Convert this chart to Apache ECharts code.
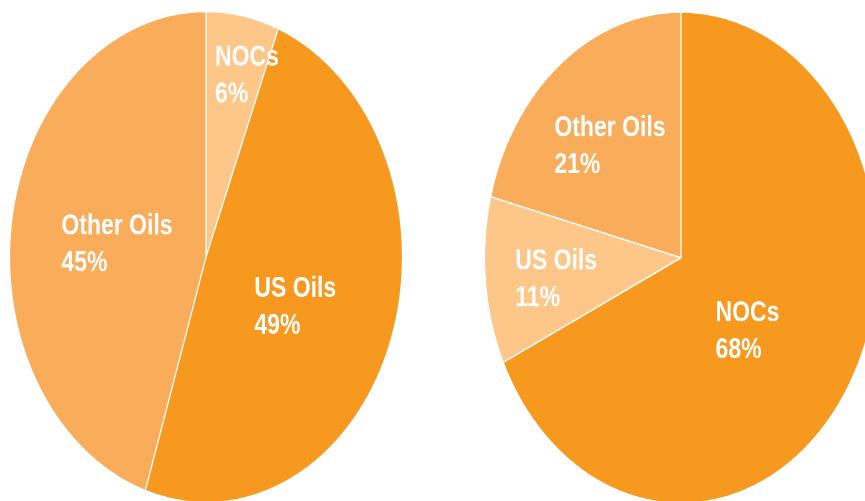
<!DOCTYPE html>
<html>
<head>
<meta charset="utf-8">
<script src="https://cdn.jsdelivr.net/npm/echarts@6/dist/echarts.min.js"></script>
<style>
    html { overflow: hidden; }
    html, body { margin: 0; padding: 0; background: #fff; width: 865px; height: 501px; }
    /* pies in the picture are stretched vertically, so the whole chart is squashed and scaled back */
    #main { width: 865px; height: 401px; transform: scaleY(1.25); transform-origin: 0 0; }
</style>
</head>
<body>
<div id="main"></div>
<script>
// данные
var leftNames = ['NOCs', 'US Oils', 'Other Oils'];
var leftValues = [6, 49, 45];

var rightNames = ['NOCs', 'US Oils', 'Other Oils'];
var rightValues = [68, 11, 21];

var light = '#FDC78A';
var medium = '#F9AD5A';
var dark = '#F7981F';

var leftColors = [light, dark, medium];
var rightColors = [dark, light, medium];

// сдвиг подписей (dx, dy) - в оригинале подписи стоят не ровно по середине сектора
var leftNudge = [[22, -45], [-6, 6], [11, 6]];
var rightNudge = [[-19, 5], [-24, 8], [-9, -9]];

function nudgePadding(n) {
    var dx = n[0], dy = n[1];
    return [
        dy > 0 ? dy * 2 : 0,
        dx < 0 ? -dx * 2 : 0,
        dy < 0 ? -dy * 2 : 0,
        dx > 0 ? dx * 2 : 0
    ];
}

function buildData(names, values, colors, nudge) {
    return names.map(function (n, i) {
        return {
            name: n,
            value: values[i],
            itemStyle: { color: colors[i] },
            label: { padding: nudgePadding(nudge[i]) }
        };
    });
}

function pieSeries(center, data) {
    return {
        type: 'pie',
        center: center,
        radius: 196.5,
        startAngle: 90,
        clockwise: true,
        silent: true,
        animation: false,
        itemStyle: { borderColor: '#fff', borderWidth: 1.2 },
        label: {
            show: true,
            position: 'inside',
            formatter: '{t|{b}}\n{t|{c}%}',
            rich: {
                t: {
                    align: 'left',
                    color: '#fff',
                    fontFamily: 'Liberation Sans',
                    fontWeight: 'bold',
                    fontSize: 23,
                    lineHeight: 29.5
                }
            }
        },
        labelLine: { show: false },
        data: data
    };
}

var option = {
    backgroundColor: '#fff',
    series: [
        pieSeries([206, 205.6], buildData(leftNames, leftValues, leftColors, leftNudge)),
        pieSeries([681, 206.2], buildData(rightNames, rightValues, rightColors, rightNudge))
    ]
};

var myChart = echarts.init(document.getElementById('main'), null, { devicePixelRatio: 2 });
myChart.setOption(option);
</script>
</body>
</html>
